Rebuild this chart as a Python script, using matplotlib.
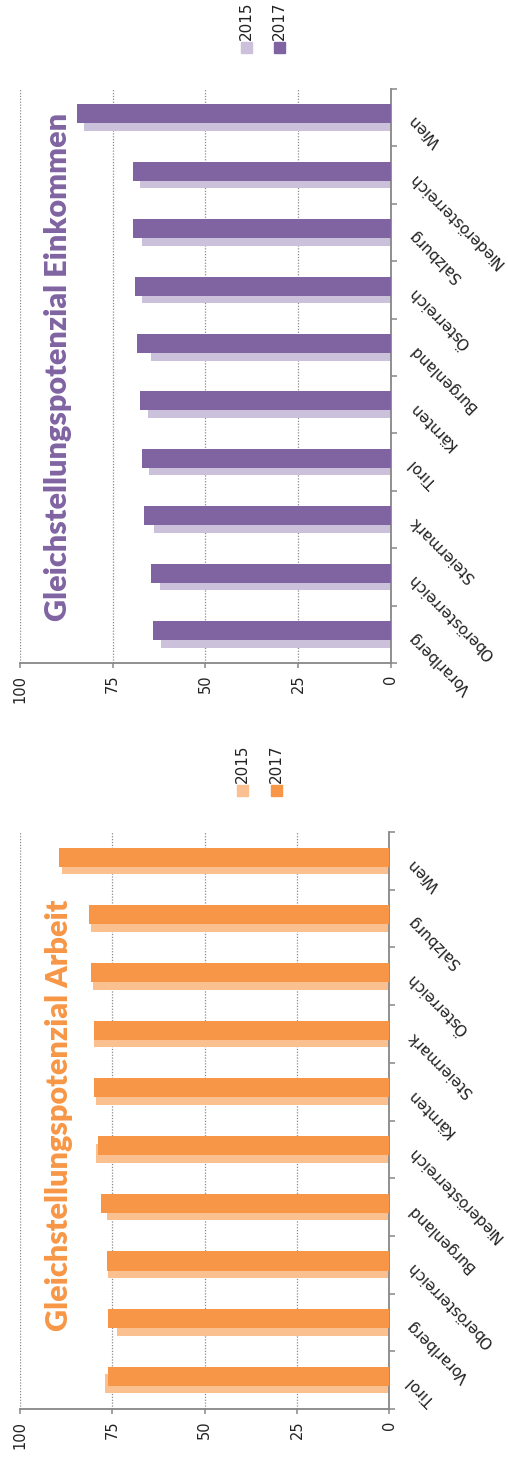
import numpy as np
import matplotlib
matplotlib.use("Agg")
import matplotlib.pyplot as plt
from matplotlib.patches import Rectangle

# ---------------- data ----------------
cats_einkommen = ["Vorarlberg", "Oberösterreich", "Steiermark", "Tirol", "Kärnten",
                  "Burgenland", "Österreich", "Salzburg", "Niederösterreich", "Wien"]
einkommen_2015 = [61.9, 62.3, 63.8, 65.1, 65.6, 64.7, 67.1, 67.1, 67.5, 82.7]
einkommen_2017 = [64.2, 64.7, 66.5, 67.1, 67.5, 68.5, 69.0, 69.5, 69.5, 84.7]

cats_arbeit = ["Tirol", "Vorarlberg", "Oberösterreich", "Burgenland", "Niederösterreich",
               "Kärnten", "Steiermark", "Österreich", "Salzburg", "Wien"]
arbeit_2015 = [77.0, 73.7, 76.1, 76.4, 79.4, 79.4, 79.9, 80.3, 80.8, 88.5]
arbeit_2017 = [76.1, 76.1, 76.5, 78.0, 79.0, 79.9, 80.0, 80.8, 81.3, 89.4]

value_ticks = [0, 25, 50, 75, 100]
series_labels = ["2015", "2017"]
title_einkommen = "Gleichstellungspotenzial Einkommen"
title_arbeit = "Gleichstellungspotenzial Arbeit"

# ---------------- style ----------------
W, H = 508, 1461
GRAY = "#878787"
PURPLE_LIGHT, PURPLE_DARK = "#CCC1DA", "#8064A2"
ORANGE_LIGHT, ORANGE_DARK = "#FAC090", "#F79646"

fig = plt.figure(figsize=(W / 100, H / 100), dpi=100)


def fx(px):
    return px / W


def fy(py):
    return 1 - py / H


def panel(rect, cats, v15, v17, c15, c17):
    ax = fig.add_axes(rect)
    y = np.arange(len(cats))
    ax.barh(y - 0.065, v15, height=0.33, color=c15, zorder=2)
    ax.barh(y + 0.065, v17, height=0.33, color=c17, zorder=3)
    ax.set_xlim(100, 0)
    ax.set_ylim(-0.5, len(cats) - 0.5)

    ax.yaxis.tick_right()
    ax.set_yticks(y)
    ax.set_yticklabels(cats)
    ax.set_yticks(np.arange(-0.5, len(cats)), minor=True)
    ax.tick_params(axis="y", which="major", length=0, pad=15, labelsize=11,
                   labelcolor="#222222")
    ax.tick_params(axis="y", which="minor", length=4.5, color=GRAY, width=1.1)
    for lbl in ax.get_yticklabels():
        lbl.set_rotation(135)
        lbl.set_rotation_mode("anchor")
        lbl.set_ha("right")
        lbl.set_va("center")

    ax.set_xticks(value_ticks)
    ax.set_xticklabels([str(v) for v in value_ticks], rotation=90)
    ax.tick_params(axis="x", length=3.5, color=GRAY, width=1.1, pad=5, labelsize=10.5,
                   labelcolor="#222222")

    ax.xaxis.grid(True, linestyle=(0, (1, 1.3)), color="#8a8a8a", lw=0.9)
    ax.yaxis.grid(False)
    ax.set_axisbelow(True)
    for s in ("left", "top"):
        ax.spines[s].set_visible(False)
    for s in ("right", "bottom"):
        ax.spines[s].set_color(GRAY)
        ax.spines[s].set_linewidth(1.3)
    return ax


# top panel (Einkommen)
ax1 = panel([fx(20), fy(663), fx(390.7) - fx(20), fy(89) - fy(663)],
            cats_einkommen, einkommen_2015, einkommen_2017, PURPLE_LIGHT, PURPLE_DARK)
# bottom panel (Arbeit)
ax2 = panel([fx(20), fy(1409), fx(389.3) - fx(20), fy(832) - fy(1409)],
            cats_arbeit, arbeit_2015, arbeit_2017, ORANGE_LIGHT, ORANGE_DARK)

# titles
fig.text(fx(58), fy(621), title_einkommen, rotation=90, ha="center", va="bottom",
         fontsize=22, fontweight="heavy", family="Lato", color=PURPLE_DARK)
fig.text(fx(59), fy(1331), title_arbeit, rotation=90, ha="center", va="bottom",
         fontsize=22, fontweight="heavy", family="Lato", color=ORANGE_DARK)


# legends
def legend(xs, ypatch_top, colors):
    for x, c, lab in zip(xs, colors, series_labels):
        fig.patches.append(Rectangle((fx(x), fy(ypatch_top + 11)), fx(11), fy(0) - fy(11),
                                     transform=fig.transFigure, color=c))
        fig.text(fx(x + 5.5), fy(ypatch_top - 2), lab, rotation=90, ha="center", va="bottom",
                 fontsize=11, color="#222222")


legend([241, 274], 42, [PURPLE_LIGHT, PURPLE_DARK])
legend([237, 271], 785, [ORANGE_LIGHT, ORANGE_DARK])

fig.savefig("out.png", dpi=100)
